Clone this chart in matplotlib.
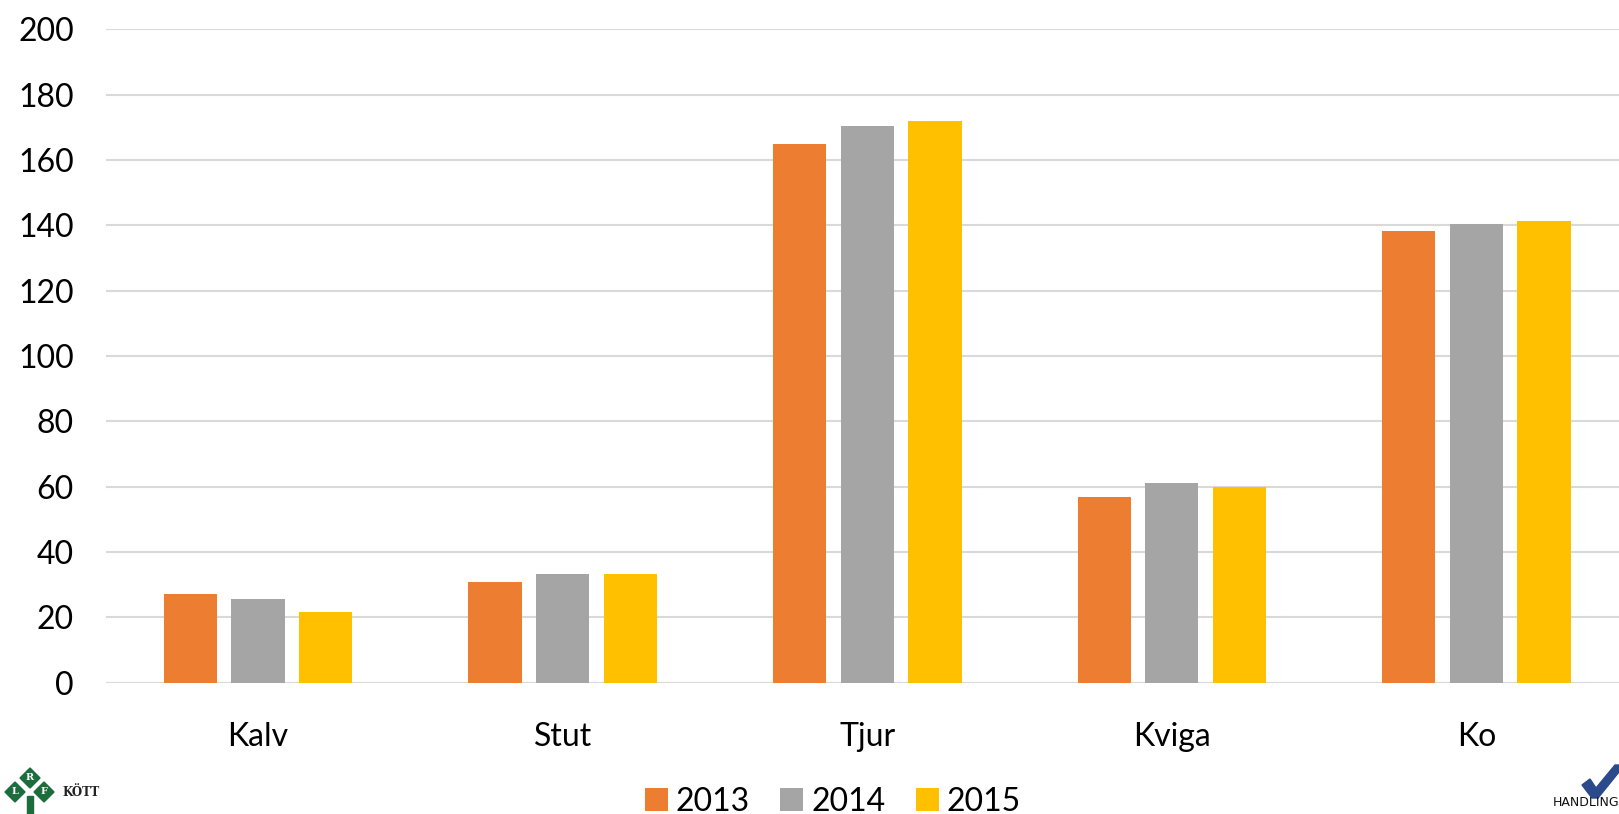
import numpy as np
import matplotlib.pyplot as plt
from matplotlib.patches import Polygon, Rectangle

categories = ['Kalv', 'Stut', 'Tjur', 'Kviga', 'Ko']
years = ['2013', '2014', '2015']
v2013 = [27.0, 30.7, 164.9, 56.8, 138.2]
v2014 = [25.6, 33.4, 170.4, 61.1, 140.4]
v2015 = [21.6, 33.4, 172.0, 59.8, 141.3]
colors = ['#ED7D31', '#A5A5A5', '#FFC000']

W, H = 1619, 814
plt.rcParams['font.family'] = ['Lato', 'DejaVu Sans']

fig = plt.figure(figsize=(W / 100, H / 100), dpi=100)


def fx(x):
    return x / W


def fy(y):
    return 1 - y / H


# axes: left edge ~106px, bottom at 682.7px, 200 at 29.3px; right side runs past the figure
left, right = 105.8, 1628.7
bottom, top = 682.7, 29.3
ax = fig.add_axes([fx(left), fy(bottom), (W - left) / W, (bottom - top) / H])
xmax = 4.5 - (right - W) / ((right - left) / 5)
ax.set_xlim(-0.5, xmax)
ax.set_ylim(0, 200)

x = np.arange(len(categories))
width = 0.175
step = 0.222
series = [v2013, v2014, v2015]
for i, vals in enumerate(series):
    ax.bar(x + (i - 1) * step, vals, width, color=colors[i], label=years[i], zorder=3)

ax.set_yticks(np.arange(0, 201, 20))
ax.yaxis.grid(True, color='#D9D9D9', linewidth=1.5, zorder=0)
ax.axhline(0, color='#D9D9D9', linewidth=1.5, zorder=2)
for s in ax.spines.values():
    s.set_visible(False)
ax.tick_params(axis='both', length=0, labelsize=23, colors='#000000')
ax.tick_params(axis='y', pad=23)
ax.tick_params(axis='x', pad=28)
ax.set_xticks(x)
ax.set_xticklabels(categories)

fig.legend(loc='center', bbox_to_anchor=(fx(833), fy(802)), ncol=3, frameon=False,
           fontsize=23, handlelength=0.72, handleheight=0.72, handletextpad=0.25,
           columnspacing=0.95)

# LRF logo, bottom left
green = '#1B6E3C'
for cx, cy, letter in [(15, 792, 'L'), (30, 778, 'R'), (44, 792, 'F')]:
    d = 10
    fig.patches.append(Polygon([(fx(cx - d), fy(cy)), (fx(cx), fy(cy - d)),
                                (fx(cx + d), fy(cy)), (fx(cx), fy(cy + d))],
                               closed=True, transform=fig.transFigure, color=green))
    fig.text(fx(cx), fy(cy), letter, color='white', fontsize=7, fontweight='bold',
             ha='center', va='center', family='DejaVu Serif')
fig.patches.append(Rectangle((fx(27), 0), fx(6), fy(796), transform=fig.transFigure, color=green))
fig.text(fx(62), fy(792), 'KÖTT', fontsize=8.5, fontweight='bold', ha='left', va='center',
         family='DejaVu Serif', color='#222222')

# Handling logo, bottom right
blue = '#2B4A8B'
fig.patches.append(Polygon([(fx(1582), fy(785)), (fx(1590), fy(779)), (fx(1596), fy(788)),
                            (fx(1615), fy(765)), (fx(1619), fy(765)), (fx(1619), fy(772)),
                            (fx(1598), fy(798)), (fx(1592), fy(798))],
                           closed=True, transform=fig.transFigure, color=blue))
fig.text(fx(1553), fy(803), 'HANDLING', fontsize=9, ha='left', va='center', color='#111111',
         family='DejaVu Sans')

fig.savefig('out.png', dpi=100)
